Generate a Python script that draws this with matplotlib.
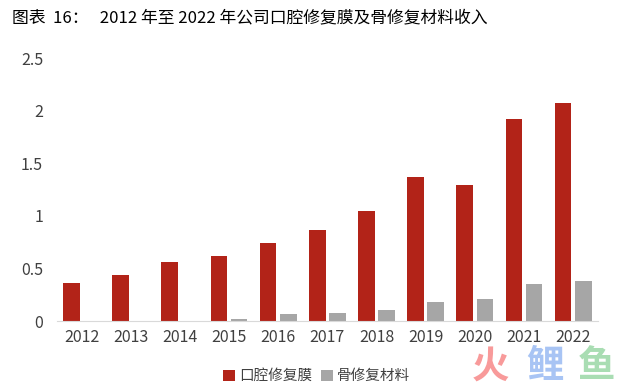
import numpy as np
import matplotlib
matplotlib.use("Agg")
import matplotlib.pyplot as plt

plt.rcParams['font.family'] = ['Noto Sans CJK SC', 'DejaVu Sans']

# 数据
years = ['2012', '2013', '2014', '2015', '2016', '2017', '2018', '2019', '2020', '2021', '2022']
membrane = [0.36, 0.44, 0.565, 0.62, 0.74, 0.87, 1.05, 1.37, 1.29, 1.92, 2.07]
bone = [0, 0, 0, 0.016, 0.067, 0.073, 0.105, 0.18, 0.21, 0.35, 0.38]
series_names = ['口腔修复膜', '骨修复材料']
title = '图表  16：   2012 年至 2022 年公司口腔修复膜及骨修复材料收入'

red = '#B22318'
grey = '#A6A6A6'
txt = '#404040'

fig = plt.figure(figsize=(6.4, 3.87), dpi=100)
ax = fig.add_axes([0.089, 0.1705, 0.845, 0.6795])

x = np.arange(len(years))
w = 0.34
off = 0.205
ax.bar(x - off, membrane, w, color=red, label=series_names[0])
ax.bar(x + off, bone, w, color=grey, label=series_names[1])

ax.set_xlim(-0.5, len(years) - 0.5)
ax.set_ylim(0, 2.5)
ax.set_yticks([0, 0.5, 1, 1.5, 2, 2.5])
ax.set_yticklabels(['0', '0.5', '1', '1.5', '2', '2.5'])
ax.set_xticks(x)
ax.set_xticklabels(years)
ax.tick_params(axis='both', length=0, labelsize=11.5, colors=txt)
ax.tick_params(axis='y', pad=10)
ax.tick_params(axis='x', pad=6)
for s in ['top', 'right', 'left']:
    ax.spines[s].set_visible(False)
ax.spines['bottom'].set_color('#D9D9D9')

fig.text(0.019, 0.953, title, fontsize=12.1, color='black', va='center')

fig.legend(loc='center', bbox_to_anchor=(0.495, 0.028), ncol=2, frameon=False,
           fontsize=10.5, handlelength=0.8, handleheight=0.8, handletextpad=0.3,
           columnspacing=0.6, labelcolor=txt)

# 水印
fig.text(0.766, 0.055, '火', fontsize=27, color='#F89A9A', fontweight='bold', ha='center', va='center')
fig.text(0.852, 0.055, '鲤', fontsize=27, color='#A8C4F4', fontweight='bold', ha='center', va='center')
fig.text(0.932, 0.055, '鱼', fontsize=27, color='#A9DDB3', fontweight='bold', ha='center', va='center')

fig.savefig('out.png', dpi=100)
